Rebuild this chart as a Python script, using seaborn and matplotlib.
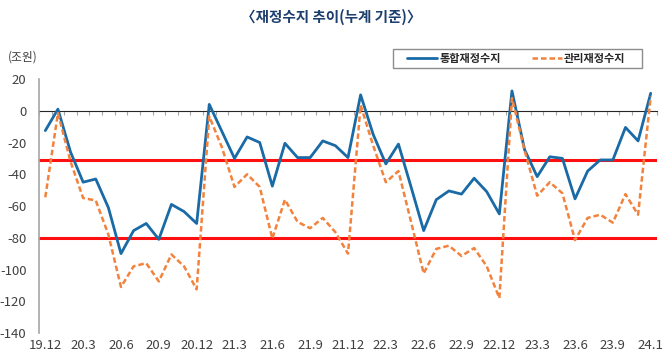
import numpy as np
import pandas as pd
import matplotlib
matplotlib.use("Agg")
import matplotlib.pyplot as plt
from matplotlib.patches import Rectangle
import seaborn as sns

# months shown (23.12 is not in the source series)
months = ["19.12", "20.1", "20.2", "20.3", "20.4", "20.5", "20.6", "20.7", "20.8", "20.9",
          "20.10", "20.11", "20.12", "21.1", "21.2", "21.3", "21.4", "21.5", "21.6", "21.7",
          "21.8", "21.9", "21.10", "21.11", "21.12", "22.1", "22.2", "22.3", "22.4", "22.5",
          "22.6", "22.7", "22.8", "22.9", "22.10", "22.11", "22.12", "23.1", "23.2", "23.3",
          "23.4", "23.5", "23.6", "23.7", "23.8", "23.9", "23.10", "23.11", "24.1"]

# 통합재정수지 (조원)
integrated = [-12.5, 1, -26, -45, -43, -61, -90, -75.5, -71, -81,
              -59, -63.5, -71, 4, -13, -30, -16.5, -20, -47.5, -20.5,
              -29.5, -29.5, -19, -22, -29.5, 10, -15, -33.5, -21, -48,
              -75.5, -56, -50.5, -52.5, -42.5, -51, -65, 12.5, -24.5, -41.5,
              -29, -30, -55.5, -38, -31, -31, -10.5, -19, 11]

# 관리재정수지 (조원)
managed = [-54.5, -1.5, -32, -55, -56.5, -78, -111, -98, -96, -107.5,
           -90.5, -98, -112.5, -3.5, -23, -48, -40, -48, -80.5, -56,
           -70, -74, -67.5, -76.5, -90, 3.5, -22, -45, -38, -70,
           -102.5, -87, -85, -91.5, -86.5, -98, -118, 8, -25, -53.5,
           -45, -52, -81.5, -67.5, -65.5, -70.5, -52.5, -65.5, 9]

ref_levels = [-31, -80]
tick_labels = ["19.12", "20.3", "20.6", "20.9", "20.12", "21.3", "21.6", "21.9", "21.12",
               "22.3", "22.6", "22.9", "22.12", "23.3", "23.6", "23.9", "24.1"]

df = pd.DataFrame({"idx": np.arange(len(months)), "month": months,
                   "통합재정수지": integrated, "관리재정수지": managed})

sns.set_style("white")
plt.rcParams["font.family"] = ["Noto Sans CJK KR", "DejaVu Sans"]
plt.rcParams["axes.unicode_minus"] = False

W, H = 670, 363
fig = plt.figure(figsize=(6.7, 3.63), dpi=100)
ax = fig.add_axes([39 / W, 1 - 333 / H, (657 - 39) / W, (333 - 79) / H])

blue = "#1a6aa6"
orange = "#f2823c"
sns.lineplot(data=df, x="idx", y="통합재정수지", ax=ax, color=blue, linewidth=2.0,
             label="통합재정수지")
sns.lineplot(data=df, x="idx", y="관리재정수지", ax=ax, color=orange, linewidth=1.8,
             label="관리재정수지")
ax.lines[1].set_dashes([2.2, 1.2])

for lv in ref_levels:
    ax.axhline(lv, color="#ff1010", linewidth=2.2, zorder=1)

ax.set_xlim(-0.5, len(months) - 0.5)
ax.set_ylim(-140, 20)
ax.set_yticks(np.arange(-140, 21, 20))
tick_pos = [months.index(t) for t in tick_labels]
ax.set_xticks(tick_pos)
ax.set_xticklabels(tick_labels)
ax.set_xlabel("")
ax.set_ylabel("")

for s in ["top", "right", "bottom"]:
    ax.spines[s].set_visible(False)
ax.spines["left"].set_color("#a6a6a6")
ax.spines["left"].set_linewidth(1.2)
ax.tick_params(axis="x", length=0, pad=4, labelsize=9.5, labelcolor="#404040")
ax.tick_params(axis="y", direction="in", length=3, color="#a6a6a6", pad=9,
               labelsize=9.5, labelcolor="#404040")

# category axis crossing at zero
zero_frac = (0 - (-140)) / 160
sec = ax.secondary_xaxis(zero_frac)
sec.set_xticks(np.arange(-0.5, len(months), 1))
sec.tick_params(direction="in", length=3, color="#a6a6a6", labelbottom=False, labeltop=False)
sec.spines["bottom"].set_color("#a6a6a6")
sec.spines["bottom"].set_linewidth(1.2)
sec.set_xticklabels([])

# legend box
ax.add_patch(Rectangle((393 / W, 1 - 68 / H), (642 - 393) / W, 19 / H,
                       transform=fig.transFigure, facecolor="white", clip_on=False,
                       edgecolor="#8c8c8c", linewidth=1.0, zorder=4))
leg = ax.legend(loc="center left", bbox_to_anchor=(407 / W, 1 - 58.5 / H),
                bbox_transform=fig.transFigure, ncol=2, frameon=False,
                fontsize=8, handlelength=2.7, handletextpad=0.2,
                columnspacing=2.8, borderpad=0, borderaxespad=0)
leg.set_zorder(6)
for t in leg.get_texts():
    t.set_fontweight("bold")
    t.set_color("#262626")

fig.text(331 / W, 0.953, "〈재정수지 추이(누계 기준)〉", ha="center", va="center",
         fontsize=10.5, fontweight="bold", color="#1d3f6e")
fig.text(8 / W, 1 - 57 / H, "(조원)", ha="left", va="center", fontsize=8.5,
         color="#404040")

fig.savefig("out.png", dpi=100)
